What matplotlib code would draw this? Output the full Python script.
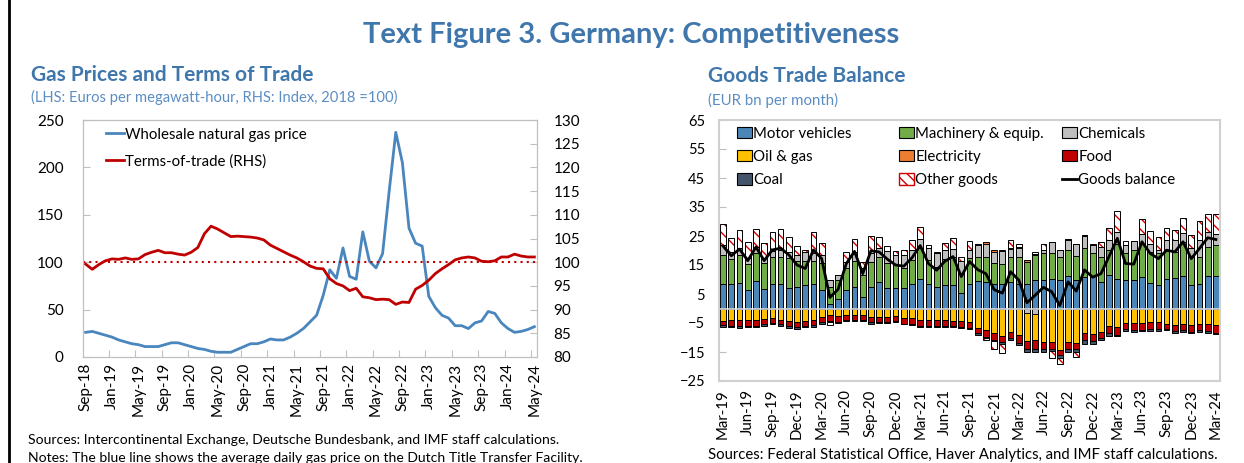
import numpy as np
import matplotlib.pyplot as plt
from matplotlib.lines import Line2D
from matplotlib.patches import Patch

plt.rcParams['font.family'] = ['Lato', 'DejaVu Sans']

# ---------------- left panel data (monthly, Sep-18 .. May-24) ----------------
gas_price = [26, 27, 25, 23, 21, 18, 16, 14, 13, 11, 11, 11, 13, 15, 15, 13, 11, 9, 8,
             6, 5, 5, 5, 8, 11, 14, 14, 16, 19, 18, 18, 21, 25, 30, 37, 44, 65, 92,
             83, 115, 85, 82, 132, 101, 94, 109, 175, 237, 205, 136, 120, 117, 64,
             52, 44, 41, 33, 33, 30, 36, 38, 48, 46, 36, 30, 26, 27, 29, 32]
terms_of_trade = [99.6, 98.5, 99.5, 100.3, 100.7, 100.6, 100.9, 100.6, 100.7, 101.6,
                  102.1, 102.5, 102.0, 102.0, 101.7, 101.5, 102.1, 103.1, 106.0,
                  107.6, 107.0, 106.2, 105.4, 105.5, 105.4, 105.3, 105.1, 104.7,
                  103.6, 102.9, 102.2, 101.5, 100.9, 100.1, 99.2, 98.7, 98.6, 96.5,
                  95.5, 95.0, 94.0, 94.5, 92.7, 92.5, 92.1, 92.2, 92.1, 91.1, 91.6,
                  91.5, 94.3, 95.1, 96.2, 97.6, 98.6, 99.5, 100.5, 100.9, 101.1,
                  100.9, 100.2, 100.1, 100.3, 101.1, 101.1, 101.7, 101.3, 101.1, 101.1]
gas_ticklabels = ['Sep-18', 'Jan-19', 'May-19', 'Sep-19', 'Jan-20', 'May-20', 'Sep-20',
                  'Jan-21', 'May-21', 'Sep-21', 'Jan-22', 'May-22', 'Sep-22', 'Jan-23',
                  'May-23', 'Sep-23', 'Jan-24', 'May-24']

# ---------------- right panel data (monthly, Mar-19 .. Mar-24, EUR bn) ----------------
motor = [8.6, 8.3, 8.8, 6.3, 9.4, 6.7, 8.3, 8.5, 7.0, 7.4, 8.0, 8.5, 6.4, 1.4, 3.4, 6.3,
         7.5, 4.0, 7.5, 9.0, 7.1, 6.9, 6.9, 8.6, 10.3, 8.6, 7.5, 8.0, 8.0, 5.2, 8.4, 9.4,
         9.0, 8.3, 8.3, 9.2, 8.3, 8.3, 10.0, 9.8, 10.3, 9.8, 11.3, 10.0, 10.9, 11.1, 9.2,
         11.5, 10.3, 10.0, 9.8, 10.7, 8.9, 8.0, 10.3, 10.6, 11.1, 8.0, 8.4, 11.1, 11.1]
machinery = [9.7, 8.7, 9.5, 9.0, 9.8, 8.9, 9.5, 9.4, 10.4, 9.0, 8.4, 7.9, 9.4, 6.1, 6.6,
             7.5, 8.9, 7.5, 8.6, 8.8, 8.6, 8.0, 6.9, 8.1, 10.4, 8.1, 6.9, 9.2, 9.8, 6.8,
             9.0, 8.4, 8.8, 7.4, 7.0, 8.6, 9.5, 7.9, 8.4, 9.2, 8.7, 7.8, 8.8, 8.0, 9.8,
             7.9, 8.6, 8.6, 12.1, 9.0, 10.3, 11.7, 10.6, 11.0, 9.8, 8.9, 11.9, 9.8, 9.4,
             10.2, 10.7]
chemicals = [3.7, 2.5, 2.5, 2.0, 2.1, 1.9, 2.2, 2.4, 2.1, 2.1, 3.1, 2.6, 2.8, 2.3, 1.5,
             2.3, 3.1, 2.3, 2.9, 2.9, 4.1, 3.7, 4.6, 3.4, 3.4, 4.3, 4.6, 2.9, 2.6, 4.3,
             2.7, 4.2, 4.6, 3.9, 4.4, 2.7, 2.9, -1.5, -2.0, 1.1, 4.0, 2.5, 3.5, 4.4, 4.3,
             3.0, 3.4, 3.5, 4.1, 2.8, 3.1, 3.3, 2.9, 1.3, 3.5, 4.1, 2.9, 3.2, 5.8, 5.1, 3.9]
oil_gas = [-4.3, -3.8, -4.0, -4.0, -4.0, -3.7, -3.3, -3.8, -4.4, -4.8, -4.2, -3.8, -3.0,
           -2.3, -2.5, -2.3, -2.1, -2.2, -3.1, -2.9, -2.9, -2.7, -3.4, -3.4, -4.0, -3.8,
           -3.8, -4.0, -4.2, -4.2, -4.6, -6.7, -7.5, -8.6, -9.4, -8.0, -9.2, -9.8, -8.9,
           -11.7, -11.5, -14.4, -11.5, -11.8, -8.4, -8.9, -8.0, -6.1, -6.3, -4.9, -5.0,
           -5.0, -4.7, -4.7, -5.2, -5.7, -5.2, -5.7, -5.2, -5.2, -5.7]
electricity = [0.0] * 31 + [0.4, 0.4, 0.5, 0.6, 0.5, 0.5, 0.4, 0.3, 0.0, 0.0, 0.0, 0.5,
                            0.0, 0.5] + [0.0] * 16
food = [-1.5, -2.1, -2.0, -2.0, -1.9, -1.8, -1.6, -1.6, -1.7, -1.5, -1.7, -2.0, -1.8,
        -2.0, -2.0, -1.7, -1.9, -1.6, -1.6, -1.7, -1.7, -1.7, -1.8, -1.8, -2.1, -2.1,
        -2.1, -1.9, -1.9, -2.1, -2.0, -1.6, -2.3, -2.1, -2.1, -2.1, -2.6, -2.5, -2.9,
        -2.1, -2.3, -1.7, -2.3, -2.3, -2.3, -2.2, -2.1, -2.5, -2.7, -2.2, -2.5, -2.3,
        -2.5, -2.5, -1.7, -2.0, -2.3, -2.3, -2.3, -2.5, -2.7]
coal = [-0.7, -0.6, -0.6, -0.5, -0.5, -0.6, -0.6, -0.7, -0.7, -0.6, -0.6, -0.5, -0.7,
        -0.3, -0.4, -0.4, -0.4, -0.4, -0.5, -0.4, -0.4, -0.4, -0.3, -0.4, -0.4, -0.4,
        -0.4, -0.4, -0.4, -0.3, -0.4, -0.7, -0.5, -0.6, -0.7, -0.8, -0.8, -1.1, -1.1,
        -1.1, -0.8, -0.9, -1.1, -0.8, -1.4, -1.0, -0.8, -0.8, -0.5, -0.6, -0.5, -0.5,
        -0.5, -0.5, -0.6, -0.6, -0.5, -0.4, -0.5, -0.7, -0.5]
other_goods = [7.0, 4.9, 6.4, 5.6, 6.2, 5.0, 6.3, 7.0, 5.1, 3.0, 0.8, 7.5, 4.1, -1.1, 0.0,
               3.4, 4.6, 2.3, 6.1, 3.8, 1.8, 1.2, 1.7, 3.5, 4.1, 0.8, 0.5, 2.5, 4.0, 1.3,
               3.1, 0.0, -0.6, -2.5, -3.0, 2.6, 1.2, 0.0, 0.8, 2.1, -2.6, -2.2, 0.0, -1.8,
               0.0, 0.4, 1.8, 4.2, 7.2, 1.5, 0.0, 5.0, 4.3, 4.4, 4.0, 3.6, 5.4, 4.5, 6.6,
               6.1, 6.8]
goods_balance = [21.5, 18.2, 20.5, 16.5, 21.2, 16.5, 20.2, 20.8, 18.5, 15.0, 13.8, 20.2,
                 17.2, 3.8, 6.6, 15.5, 19.7, 12.0, 19.9, 19.5, 17.0, 15.0, 14.6, 17.5,
                 21.7, 15.5, 13.2, 16.3, 17.9, 11.0, 16.2, 13.4, 12.0, 6.5, 5.3, 12.7,
                 9.8, 2.0, 4.6, 7.3, 5.8, 1.0, 9.2, 6.0, 13.3, 10.8, 12.0, 18.0, 24.2,
                 15.5, 15.3, 23.0, 19.0, 17.2, 20.1, 19.5, 23.0, 17.2, 20.7, 24.4, 23.8]
trade_ticklabels = ['Mar-19', 'Jun-19', 'Sep-19', 'Dec-19', 'Mar-20', 'Jun-20', 'Sep-20',
                    'Dec-20', 'Mar-21', 'Jun-21', 'Sep-21', 'Dec-21', 'Mar-22', 'Jun-22',
                    'Sep-22', 'Dec-22', 'Mar-23', 'Jun-23', 'Sep-23', 'Dec-23', 'Mar-24']

W, H = 1244, 463
fig = plt.figure(figsize=(W / 100, H / 100), dpi=100)

TITLE = '#3F76AC'
SUB = '#5B8DC4'
GRID = '#BFBFBF'


def px(x, y):
    return x / W, 1 - y / H


def rect(x0, y0, x1, y1):
    return [x0 / W, 1 - y1 / H, (x1 - x0) / W, (y1 - y0) / H]


fig.add_artist(Line2D([9 / W, 9 / W], [0, 1], color='black', lw=2))

fig.text(*px(631, 35), 'Text Figure 3. Germany: Competitiveness', ha='center', va='center',
         fontsize=21, fontweight='bold', color=TITLE)
fig.text(*px(31, 75), 'Gas Prices and Terms of Trade', ha='left', va='center',
         fontsize=15, fontweight='bold', color=TITLE)
fig.text(*px(31, 97), '(LHS: Euros per megawatt-hour, RHS: Index, 2018 =100)', ha='left',
         va='center', fontsize=10.6, color=SUB)
fig.text(*px(708, 76), 'Goods Trade Balance', ha='left', va='center',
         fontsize=15, fontweight='bold', color=TITLE)
fig.text(*px(708, 100), '(EUR bn per month)', ha='left', va='center', fontsize=10.8, color=SUB)
fig.text(*px(28, 440), 'Sources: Intercontinental Exchange, Deutsche Bundesbank, and IMF staff calculations.',
         ha='left', va='center', fontsize=10.1)
fig.text(*px(28, 458), 'Notes: The blue line shows the average daily gas price on the Dutch Title Transfer Facility.',
         ha='left', va='center', fontsize=10.1)
fig.text(*px(708, 455), 'Sources: Federal Statistical Office, Haver Analytics, and IMF staff calculations.',
         ha='left', va='center', fontsize=10.7)

# ---------------- left panel ----------------
ax1 = fig.add_axes(rect(83, 120, 537, 357))
x1 = np.arange(len(gas_price))
l1, = ax1.plot(x1, gas_price, color='#4A86BE', lw=2)
ax1.set_ylim(0, 250)
ax1.set_yticks(np.arange(0, 251, 50))
ax1.set_xlim(-0.4, len(gas_price) - 0.6)
ax1.set_xticks(np.arange(3.5, len(gas_price) - 1, 4))
ax1.set_xticklabels([])
ax1.set_xticks(np.arange(0, len(gas_price), 4), minor=True)
ax1.set_xticklabels(gas_ticklabels, minor=True, rotation=90, fontsize=11)
ax1.tick_params(axis='x', which='major', direction='in', length=5, color=GRID)
ax1.tick_params(axis='x', which='minor', length=0, pad=4)
ax1.tick_params(axis='y', direction='in', length=5, color=GRID, labelsize=11, pad=14)

ax2 = ax1.twinx()
ax2.axhline(100, color='#C00000', ls=(0, (1, 2)), lw=1.5)
l2, = ax2.plot(x1, terms_of_trade, color='#C00000', lw=2)
ax2.set_ylim(80, 130)
ax2.set_yticks(np.arange(80, 131, 5))
ax2.tick_params(axis='y', direction='in', length=5, color=GRID, labelsize=11, pad=12)
for a in (ax1, ax2):
    for s in a.spines.values():
        s.set_color(GRID)
ax1.legend([l1, l2], ['Wholesale natural gas price', 'Terms-of-trade (RHS)'], loc='upper left',
           bbox_to_anchor=(0.02, 1.025), frameon=False, fontsize=10.8, handlelength=1.2,
           handletextpad=0.1, labelspacing=0.85)

# ---------------- right panel ----------------
ax3 = fig.add_axes(rect(719, 120, 1220, 381))
x3 = np.arange(len(motor))
series = [
    ('Motor vehicles', motor, '#4A86B8', None),
    ('Machinery & equip.', machinery, '#70AD47', None),
    ('Chemicals', chemicals, '#BFBFBF', None),
    ('Oil & gas', oil_gas, '#FFC000', None),
    ('Electricity', electricity, '#ED7D31', None),
    ('Food', food, '#C00000', None),
    ('Coal', coal, '#44546A', None),
    ('Other goods', other_goods, 'white', '\\\\\\'),
]
pos = np.zeros(len(motor))
neg = np.zeros(len(motor))
handles = {}
bw = 0.7
for name, vals, col, hatch in series:
    v = np.array(vals, dtype=float)
    bottom = np.where(v >= 0, pos, neg)
    if hatch:
        ax3.bar(x3, v, bw, bottom=bottom, color='white', edgecolor='#D00000', hatch=hatch,
                linewidth=0, zorder=2)
        ax3.bar(x3, v, bw, bottom=bottom, fill=False, edgecolor='black', linewidth=0.7, zorder=2)
        handles[name] = Patch(facecolor='white', edgecolor='#D00000', hatch=hatch)
    else:
        ax3.bar(x3, v, bw, bottom=bottom, color=col, edgecolor='black', linewidth=0.7, zorder=2)
        handles[name] = Patch(facecolor=col, edgecolor='black', linewidth=0.8)
    pos = pos + np.where(v >= 0, v, 0)
    neg = neg + np.where(v < 0, v, 0)
lb, = ax3.plot(x3, goods_balance, color='black', lw=2, zorder=3)
handles['Goods balance'] = lb
ax3.axhline(0, color='#D9D9D9', lw=1.2, zorder=2.5)

ax3.set_ylim(-25, 65)
ax3.set_yticks(np.arange(-25, 66, 10))
ax3.set_xlim(-0.5, len(motor) - 0.5)
ax3.set_xticks(np.arange(0, len(motor), 3))
ax3.set_xticklabels(trade_ticklabels, rotation=90, fontsize=10.8)
ax3.tick_params(axis='x', length=0, pad=6)
ax3.tick_params(axis='y', direction='in', length=5, color=GRID, labelsize=10.5, pad=10)
for s in ax3.spines.values():
    s.set_color('#D0D0D0')
    s.set_linewidth(1.5)

# three single-column legends so the columns sit where the reference puts them
columns = [(['Motor vehicles', 'Oil & gas', 'Coal'], 0.014),
           (['Machinery & equip.', 'Electricity', 'Other goods'], 0.338),
           (['Chemicals', 'Food', 'Goods balance'], 0.663)]
legends = []
for names, xa in columns:
    leg = ax3.legend([handles[n] for n in names], names, loc='upper left',
                     bbox_to_anchor=(xa, 1.015), frameon=False, fontsize=10.8,
                     handlelength=1.0, handleheight=0.8, handletextpad=0.1,
                     labelspacing=0.62, borderaxespad=0.3)
    legends.append(leg)
for leg in legends[:-1]:
    ax3.add_artist(leg)

fig.savefig('out.png', dpi=100)
